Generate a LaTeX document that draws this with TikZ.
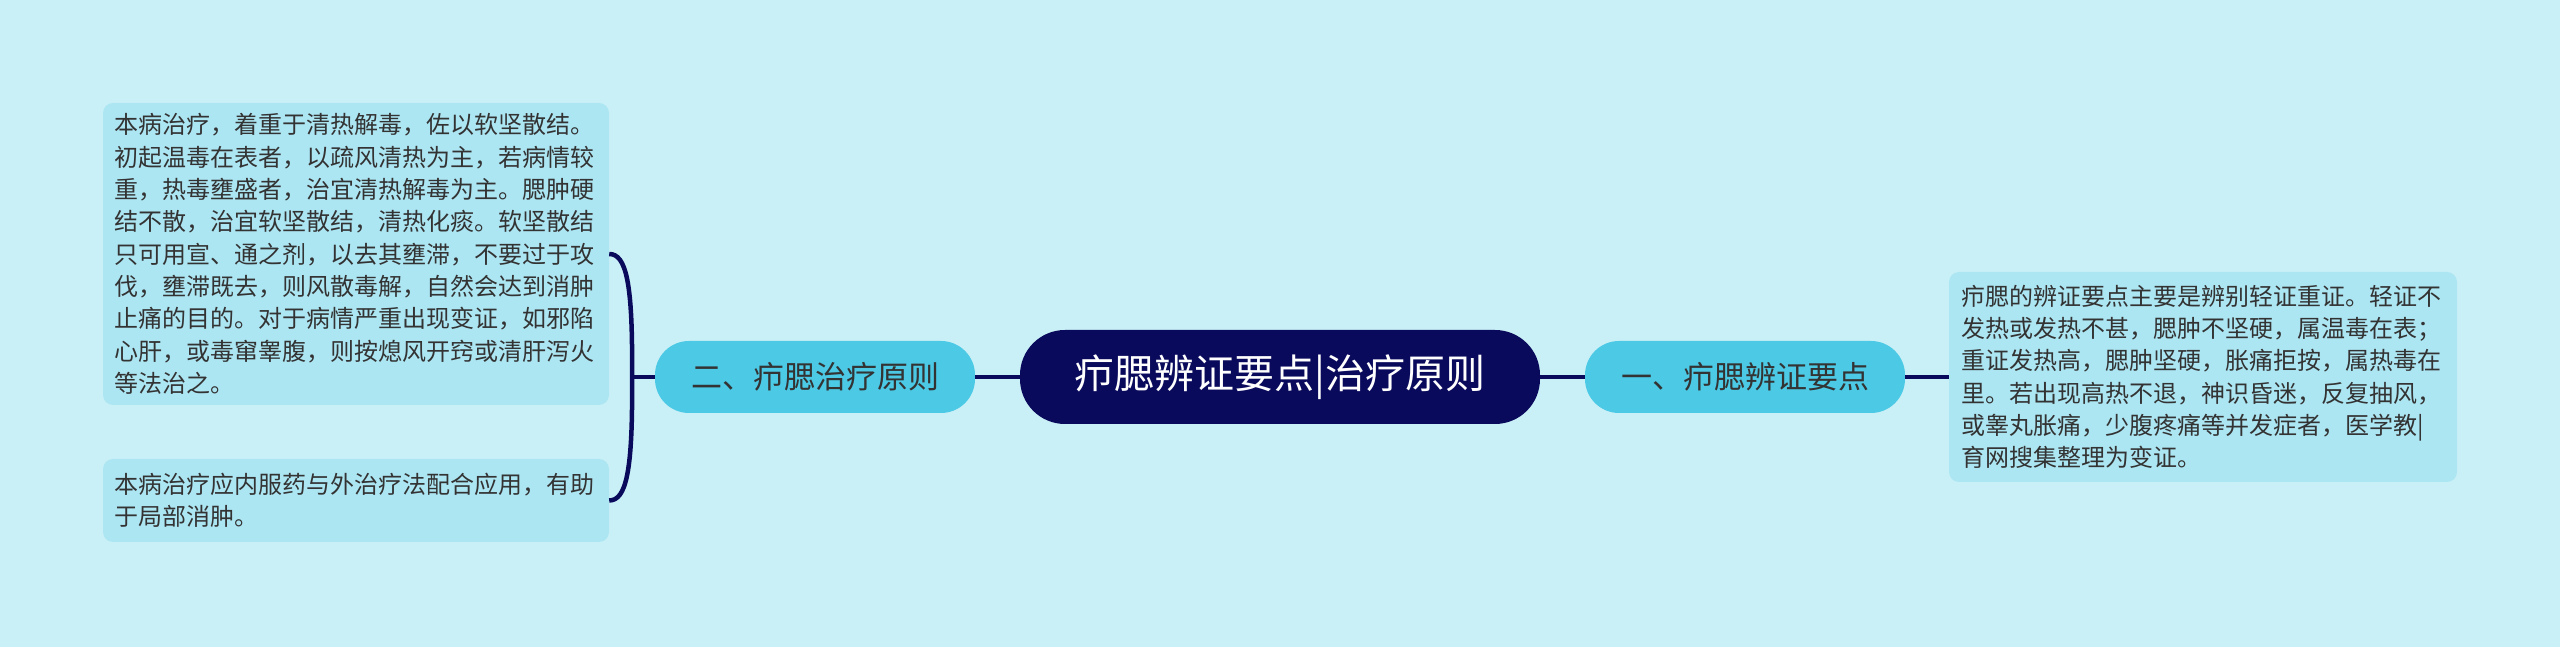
\documentclass[tikz,border=0pt]{standalone}
\usepackage{fontspec}
\setmainfont{Noto Sans CJK SC}
\usetikzlibrary{calc}
\definecolor{bgc}{HTML}{CAF0F7}
\definecolor{boxc}{HTML}{ADE6F3}
\definecolor{branchc}{HTML}{4CC9E5}
\definecolor{navy}{HTML}{0A0A5C}
\definecolor{txt}{HTML}{333333}
\tikzset{
  conn/.style={draw=navy, line width=4.5pt},
  centernode/.style={fill=navy, text=white, rounded corners=45pt, minimum width=520pt, minimum height=94pt, inner sep=0pt, font=\fontsize{40}{46}\selectfont},
  branch/.style={fill=branchc, text=txt, rounded corners=34pt, minimum width=320pt, minimum height=72pt, inner sep=0pt, font=\fontsize{31}{36}\selectfont},
  textbox/.style={fill=boxc, text=txt, rounded corners=10pt, inner sep=0pt, align=left, text width=484pt, font=\fontsize{24}{32.3}\selectfont},
}
\begin{document}
\begin{tikzpicture}[x=1pt,y=1pt]
\useasboundingbox (0,0) rectangle (2560,647);
\fill[bgc] (0,0) rectangle (2560,647);

\node[centernode] (c) at (1280,270) {疖腮辨证要点|治疗原则};
\node[branch] (l) at (815,270) {二、疖腮治疗原则};
\node[branch] (r) at (1745,270) {一、疖腮辨证要点};

\node[textbox, minimum width=506pt, minimum height=302pt] (b1) at (356,393) {本病治疗，着重于清热解毒，佐以软坚散结。\\初起温毒在表者，以疏风清热为主，若病情较\\重，热毒壅盛者，治宜清热解毒为主。腮肿硬\\结不散，治宜软坚散结，清热化痰。软坚散结\\只可用宣、通之剂，以去其壅滞，不要过于攻\\伐，壅滞既去，则风散毒解，自然会达到消肿\\止痛的目的。对于病情严重出现变证，如邪陷\\心肝，或毒窜睾腹，则按熄风开窍或清肝泻火\\等法治之。};
\node[textbox, minimum width=506pt, minimum height=83pt] (b2) at (356,146.5) {本病治疗应内服药与外治疗法配合应用，有助\\于局部消肿。};
\node[textbox, minimum width=508pt, minimum height=210pt] (b3) at (2203,270) {疖腮的辨证要点主要是辨别轻证重证。轻证不\\发热或发热不甚，腮肿不坚硬，属温毒在表；\\重证发热高，腮肿坚硬，胀痛拒按，属热毒在\\里。若出现高热不退，神识昏迷，反复抽风，\\或睾丸胀痛，少腹疼痛等并发症者，医学教|\\育网搜集整理为变证。};

\coordinate (j) at (632,270);
\draw[conn] (c.west) -- (l.east);
\draw[conn] (c.east) -- (r.west);
\draw[conn] (r.east) -- (b3.west);
\draw[conn] (l.west) -- (j);
\draw[conn] (j) .. controls (633,365) and (626,393) .. (b1.east);
\draw[conn] (j) .. controls (633,175) and (626,146.5) .. (b2.east);
\end{tikzpicture}
\end{document}
